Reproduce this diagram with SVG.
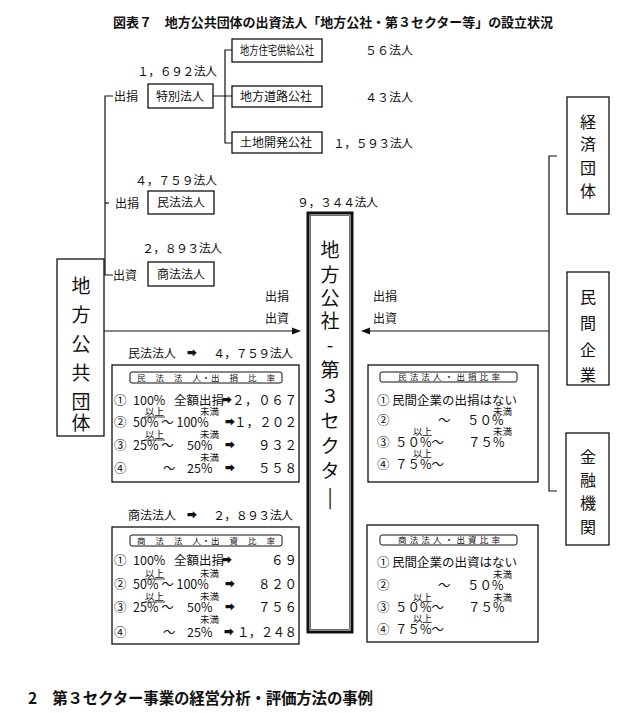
<svg xmlns="http://www.w3.org/2000/svg" width="622" height="713" viewBox="0 0 622 713">
<defs>
<style>
text{font-family:"Noto Sans CJK JP","Noto Sans CJK SC",sans-serif;fill:#111}
.t{font-size:13px;font-weight:bold}
.b{font-size:12px}
.n{font-size:12px}
.big{font-size:19px;text-anchor:middle}
.mid{font-size:16px;text-anchor:middle}
.r{font-size:12.5px}
.a{font-size:10px}
.s{font-size:9.5px}
.h{font-size:8.5px}
.box{fill:#fff;stroke:#111;stroke-width:1.3}
.ln{fill:none;stroke:#111;stroke-width:1.2}
.ul{stroke:#111;stroke-width:0.8}
</style>
</defs>
<rect width="622" height="713" fill="#fff"/>
<text class="t" x="113" y="27" textLength="440">図表７　地方公共団体の出資法人「地方公社・第３セクター等」の設立状況</text>

<g id="connectors">
<path class="ln" d="M113,96 H105 V275 H113"/>
<path class="ln" d="M105,203 H109"/>
<path class="ln" d="M213,96 H232 M232,50 H225 V143 H232"/>
<path class="ln" d="M557,156 H549 V491 H557"/>
<path class="ln" d="M104,331 H294"/>
<polygon points="301,331 292,327.5 292,334.5" fill="#111"/>
<path class="ln" d="M549,331 H368"/>
<polygon points="361,331 370,327.5 370,334.5" fill="#111"/>
</g>

<g id="n-jutaku"><rect class="box" x="232" y="39" width="90" height="23"/><text class="b" x="240" y="55" textLength="74" lengthAdjust="spacingAndGlyphs">地方住宅供給公社</text></g>
<g id="n-doro"><rect class="box" x="232" y="86" width="90" height="21"/><text class="b" x="240" y="101">地方道路公社</text></g>
<g id="n-tochi"><rect class="box" x="232" y="132" width="90" height="21"/><text class="b" x="240" y="147">土地開発公社</text></g>
<text class="n" x="365" y="55">５６法人</text>
<text class="n" x="365" y="102">４３法人</text>
<text class="n" x="333" y="148" textLength="80">１，５９３法人</text>

<g id="n-tokubetsu"><rect class="box" x="148" y="84" width="65" height="24"/><text class="b" x="156" y="101">特別法人</text></g>
<text class="n" x="137" y="76" textLength="80">１，６９２法人</text>
<text class="b" x="114" y="101">出捐</text>

<g id="n-minpo"><rect class="box" x="148" y="191" width="66" height="23"/><text class="b" x="157" y="207">民法法人</text></g>
<text class="n" x="135" y="185" textLength="82">４，７５９法人</text>
<text class="b" x="115" y="208">出捐</text>

<g id="n-shoho"><rect class="box" x="148" y="262" width="66" height="24"/><text class="b" x="157" y="279">商法法人</text></g>
<text class="n" x="142" y="253" textLength="80">２，８９３法人</text>
<text class="b" x="113" y="280">出資</text>

<g id="n-chiho"><rect class="box" x="57" y="259" width="47" height="177"/>
<text class="big" x="81" y="293">地</text><text class="big" x="81" y="322">方</text><text class="big" x="81" y="351">公</text><text class="big" x="81" y="380">共</text><text class="big" x="81" y="409">団</text><text class="big" x="81" y="430">体</text></g>

<text class="b" x="265" y="301">出捐</text>
<text class="b" x="265" y="323">出資</text>
<text class="b" x="373" y="301">出捐</text>
<text class="b" x="373" y="323">出資</text>

<text class="n" x="297" y="207" textLength="81">９，３４４法人</text>
<g id="n-center"><rect x="308" y="213" width="44" height="419" fill="#fff" stroke="#111" stroke-width="3"/><rect x="310.5" y="215.5" width="39" height="414" fill="none" stroke="#111" stroke-width="0.6"/>
<text class="big" x="330" y="257">地</text><text class="big" x="330" y="282">方</text><text class="big" x="330" y="305">公</text><text class="big" x="330" y="328">社</text><text class="big" x="330" y="352">-</text><text class="big" x="330" y="377">第</text><text class="big" x="330" y="403">３</text><text class="big" x="330" y="428">セ</text><text class="big" x="330" y="453">ク</text><text class="big" x="330" y="478">タ</text><text class="big" x="330" y="504">|</text></g>

<g id="n-keizai"><rect class="box" x="567" y="97" width="42" height="117"/>
<text class="mid" x="588" y="128">経</text><text class="mid" x="588" y="150">済</text><text class="mid" x="588" y="174">団</text><text class="mid" x="588" y="197">体</text></g>
<g id="n-minkan"><rect class="box" x="567" y="272" width="42" height="113"/>
<text class="mid" x="588" y="303">民</text><text class="mid" x="588" y="329">間</text><text class="mid" x="588" y="356">企</text><text class="mid" x="588" y="381">業</text></g>
<g id="n-kinyu"><rect class="box" x="566" y="433" width="43" height="112"/>
<text class="mid" x="588" y="463">金</text><text class="mid" x="588" y="486">融</text><text class="mid" x="588" y="509">機</text><text class="mid" x="588" y="533">関</text></g>

<!-- 民法 left -->
<text class="b" x="128" y="358">民法法人</text><text class="a" x="187" y="357">➡</text>
<text class="n" x="213" y="358" textLength="80">４，７５９法人</text>
<g id="n-minpo-ratio">
<rect class="box" x="112" y="365" width="187" height="117"/>
<rect x="130" y="372" width="152" height="11" rx="2" fill="none" stroke="#111" stroke-width="1"/>
<text class="h" x="137" y="381" textLength="138">民　法　法　人・出　捐　比　率</text>
<text class="r" x="114" y="405">①</text><text class="r" x="133" y="405">100%</text><text class="r" x="174" y="405">全額出捐</text><text class="a" x="222" y="404">➡</text><text class="r" x="297" y="405" text-anchor="end" textLength="65">２，０６７</text>
<text class="s" x="145" y="415">以上</text><line class="ul" x1="144" y1="417" x2="165" y2="417"/><text class="s" x="200" y="415">未満</text>
<text class="r" x="114" y="427">②</text><text class="r" x="133" y="427">50% ～ 100%</text><text class="a" x="225" y="426">➡</text><text class="r" x="297" y="427" text-anchor="end" textLength="63">１，２０２</text>
<text class="s" x="145" y="438">以上</text><line class="ul" x1="144" y1="440" x2="165" y2="440"/><text class="s" x="200" y="438">未満</text>
<text class="r" x="114" y="450">③</text><text class="r" x="133" y="450">25% ～</text><text class="r" x="187" y="450">50%</text><text class="a" x="225" y="449">➡</text><text class="r" x="297" y="450" text-anchor="end" textLength="39">９３２</text>
<text class="s" x="200" y="461">未満</text>
<text class="r" x="114" y="473">④</text><text class="r" x="163" y="473">～</text><text class="r" x="187" y="473">25%</text><text class="a" x="225" y="472">➡</text><text class="r" x="297" y="473" text-anchor="end" textLength="39">５５８</text>
</g>

<!-- 民法 right -->
<g id="n-minpo-private">
<rect class="box" x="368" y="365" width="170" height="117"/>
<rect x="380" y="372" width="137" height="10" rx="2" fill="none" stroke="#111" stroke-width="1"/>
<text class="h" x="398" y="380" textLength="102">民法法人・出捐比率</text>
<text class="r" x="377" y="405">①</text><text class="r" x="392" y="405">民間企業の出捐はない</text>
<text class="s" x="493" y="415">未満</text>
<text class="r" x="377" y="425">②</text><text class="r" x="438" y="425">～</text><text class="r" x="467" y="425">５０%</text>
<text class="s" x="413" y="435">以上</text><text class="s" x="493" y="435">未満</text>
<text class="r" x="377" y="447">③</text><text class="r" x="395" y="447">５０%～</text><text class="r" x="468" y="447">７５%</text>
<text class="s" x="413" y="457">以上</text>
<text class="r" x="377" y="469">④</text><text class="r" x="395" y="469">７５%～</text>
</g>

<!-- 商法 left -->
<text class="b" x="128" y="520">商法法人</text><text class="a" x="187" y="519">➡</text>
<text class="n" x="213" y="520" textLength="80">２，８９３法人</text>
<g id="n-shoho-ratio">
<rect class="box" x="112" y="527" width="187" height="117"/>
<rect x="130" y="535" width="152" height="11" rx="2" fill="none" stroke="#111" stroke-width="1"/>
<text class="h" x="137" y="544" textLength="138">商　法　法　人・出　資　比　率</text>
<text class="r" x="114" y="565">①</text><text class="r" x="133" y="565">100%</text><text class="r" x="174" y="565">全額出捐</text><text class="a" x="222" y="564">➡</text><text class="r" x="297" y="565" text-anchor="end" textLength="26">６９</text>
<text class="s" x="145" y="577">以上</text><line class="ul" x1="144" y1="579" x2="165" y2="579"/><text class="s" x="200" y="577">未満</text>
<text class="r" x="114" y="589">②</text><text class="r" x="133" y="589">50% ～ 100%</text><text class="a" x="225" y="588">➡</text><text class="r" x="297" y="589" text-anchor="end" textLength="39">８２０</text>
<text class="s" x="145" y="600">以上</text><line class="ul" x1="144" y1="602" x2="165" y2="602"/><text class="s" x="200" y="600">未満</text>
<text class="r" x="114" y="612">③</text><text class="r" x="133" y="612">25% ～</text><text class="r" x="187" y="612">50%</text><text class="a" x="225" y="611">➡</text><text class="r" x="297" y="612" text-anchor="end" textLength="39">７５６</text>
<text class="s" x="200" y="623">未満</text>
<text class="r" x="114" y="637">④</text><text class="r" x="163" y="637">～</text><text class="r" x="187" y="637">25%</text><text class="a" x="224" y="636">➡</text><text class="r" x="297" y="637" text-anchor="end" textLength="60">１，２４８</text>
</g>

<!-- 商法 right -->
<g id="n-shoho-private">
<rect class="box" x="367" y="525" width="171" height="117"/>
<rect x="380" y="535" width="137" height="10" rx="2" fill="none" stroke="#111" stroke-width="1"/>
<text class="h" x="398" y="543" textLength="102">商法法人・出資比率</text>
<text class="r" x="377" y="567">①</text><text class="r" x="392" y="567">民間企業の出資はない</text>
<text class="s" x="493" y="578">未満</text>
<text class="r" x="377" y="590">②</text><text class="r" x="438" y="590">～</text><text class="r" x="467" y="590">５０%</text>
<text class="s" x="413" y="601">以上</text><text class="s" x="493" y="601">未満</text>
<text class="r" x="377" y="612">③</text><text class="r" x="395" y="612">５０%～</text><text class="r" x="468" y="612">７５%</text>
<text class="s" x="413" y="622">以上</text>
<text class="r" x="377" y="634">④</text><text class="r" x="395" y="634">７５%～</text>
</g>

<text x="28" y="704" style="font-size:15.5px;font-weight:bold" textLength="345">2　第３セクター事業の経営分析・評価方法の事例</text>
</svg>
